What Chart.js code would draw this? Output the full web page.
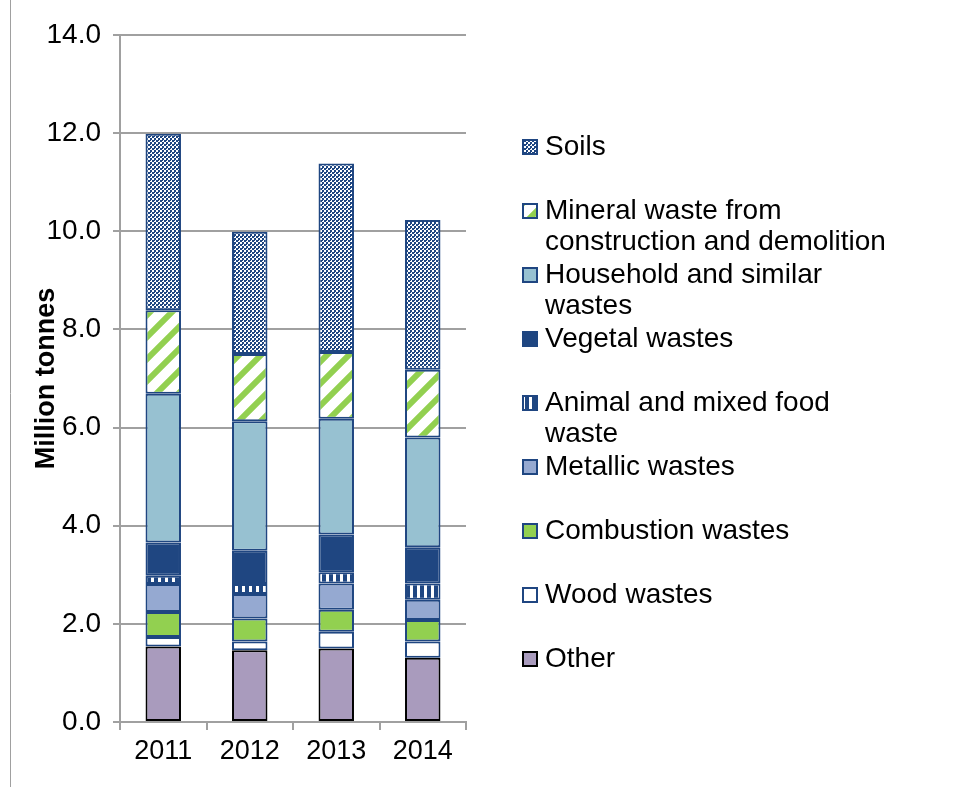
<!DOCTYPE html>
<html>
<head>
<meta charset="utf-8">
<script src="https://cdn.jsdelivr.net/npm/chart.js@4.4.1/dist/chart.umd.min.js"></script>
<style>
  body { margin: 0; background: #fff; }
  #wrap { position: relative; width: 956px; height: 787px; }
</style>
</head>
<body>
<div id="wrap"><canvas id="wasteChart" width="956" height="787"></canvas></div>
<script>
// --- Data (million tonnes) ---
const years = ['2011', '2012', '2013', '2014'];
const other      = [1.54, 1.46, 1.50, 1.31];
const wood       = [0.19, 0.18, 0.34, 0.33];
const combustion = [0.51, 0.47, 0.45, 0.44];
const metallic   = [0.57, 0.50, 0.53, 0.41];
const animal     = [0.17, 0.20, 0.23, 0.33];
const vegetal    = [0.68, 0.68, 0.77, 0.74];
const household  = [3.03, 2.64, 2.36, 2.24];
const mineral    = [1.70, 1.37, 1.36, 1.38];
const soils      = [3.60, 2.49, 3.84, 3.05];

// legend text, one entry per line
const otherLabel      = ['Other'];
const woodLabel       = ['Wood wastes'];
const combustionLabel = ['Combustion wastes'];
const metallicLabel   = ['Metallic wastes'];
const animalLabel     = ['Animal and mixed food', 'waste'];
const vegetalLabel    = ['Vegetal wastes'];
const householdLabel  = ['Household and similar', 'wastes'];
const mineralLabel    = ['Mineral waste from', 'construction and demolition'];
const soilsLabel      = ['Soils'];

const yTicks = { min: 0, max: 14, step: 2 };

// --- Colours & patterns ---
const navy = '#1F4681';
const FONT = "'Liberation Sans', Arial, sans-serif";

let ctx = document.getElementById('wasteChart').getContext('2d');

function makePattern(size, draw) {
  let c = document.createElement('canvas');
  c.width = size; c.height = size;
  let g = c.getContext('2d');
  g.fillStyle = '#fff';
  g.fillRect(0, 0, size, size);
  draw(g, size);
  return ctx.createPattern(c, 'repeat');
}

const soilsFill = makePattern(4, (g) => {
  g.fillStyle = navy;
  g.fillRect(0, 0, 2, 2);
  g.fillRect(2, 2, 2, 2);
  g.fillRect(2, 0, 1, 1);
});

const mineralFill = makePattern(22, (g, s) => {
  g.strokeStyle = '#92D050';
  g.lineWidth = 6;
  g.beginPath();
  g.moveTo(-s / 2, s / 2); g.lineTo(s / 2, -s / 2);
  g.moveTo(0, s); g.lineTo(s, 0);
  g.moveTo(s / 2, s * 1.5); g.lineTo(s * 1.5, s / 2);
  g.stroke();
});

const animalFill = makePattern(7, (g, s) => {
  g.fillStyle = navy;
  g.fillRect(0, 0, 4, s);
});

function series(label, data, fill, border) {
  return {
    label: label.join(' '),
    lines: label,
    data: data,
    backgroundColor: fill,
    borderColor: border || navy,
    borderWidth: 2,
    borderSkipped: false,
    barPercentage: 0.41,
    categoryPercentage: 1.0
  };
}

// --- Legend plugin (multi-line entries, top to bottom = top of stack first) ---
const sideLegend = {
  id: 'sideLegend',
  afterDraw(chart) {
    let c = chart.ctx;
    let sets = chart.data.datasets.slice().reverse();
    c.save();
    // outer frame line on the left
    c.strokeStyle = '#a0a0a0';
    c.lineWidth = 1;
    c.beginPath();
    c.moveTo(10.5, 0); c.lineTo(10.5, 787);
    c.stroke();

    c.font = '28px ' + FONT;
    c.textBaseline = 'middle';
    c.textAlign = 'left';
    sets.forEach((ds, i) => {
      let y = 147 + i * 64;
      c.fillStyle = ds.backgroundColor;
      c.fillRect(523, y - 7, 14, 14);
      c.strokeStyle = ds.borderColor;
      c.lineWidth = 2;
      c.strokeRect(523, y - 7, 14, 14);
      c.fillStyle = '#000';
      ds.lines.forEach((t, k) => c.fillText(t, 545, y + k * 31));
    });
    c.restore();
  }
};

new Chart(ctx, {
  type: 'bar',
  data: {
    labels: years,
    datasets: [
      series(otherLabel, other, '#A99BBD', '#000'),
      series(woodLabel, wood, '#ffffff'),
      series(combustionLabel, combustion, '#92D050'),
      series(metallicLabel, metallic, '#95A9D1'),
      series(animalLabel, animal, animalFill),
      series(vegetalLabel, vegetal, navy),
      series(householdLabel, household, '#97C1D1'),
      series(mineralLabel, mineral, mineralFill),
      series(soilsLabel, soils, soilsFill)
    ]
  },
  options: {
    responsive: false,
    animation: false,
    layout: { padding: { left: 0, right: 490, top: 35, bottom: 0 } },
    plugins: {
      legend: { display: false },
      tooltip: { enabled: false }
    },
    scales: {
      x: {
        stacked: true,
        afterFit: (s) => { s.height = 65; },
        grid: { drawOnChartArea: false, drawTicks: true, tickLength: 8, color: '#a0a0a0', lineWidth: 2 },
        border: { color: '#a0a0a0', width: 2 },
        ticks: { color: '#000', font: { family: FONT, size: 27 }, padding: 5 }
      },
      y: {
        stacked: true,
        min: yTicks.min,
        max: yTicks.max,
        afterFit: (s) => { s.width = 120; },
        grid: { color: '#a0a0a0', lineWidth: 2, tickLength: 7 },
        border: { color: '#a0a0a0', width: 2 },
        ticks: {
          stepSize: yTicks.step,
          color: '#000',
          font: { family: FONT, size: 28 },
          padding: 12,
          callback: (v) => v.toFixed(1)
        },
        title: {
          display: true,
          text: 'Million tonnes',
          color: '#000',
          font: { family: FONT, size: 27, weight: 'bold' },
          padding: { top: 30, bottom: 0 }
        }
      }
    }
  },
  plugins: [sideLegend]
});
</script>
</body>
</html>
